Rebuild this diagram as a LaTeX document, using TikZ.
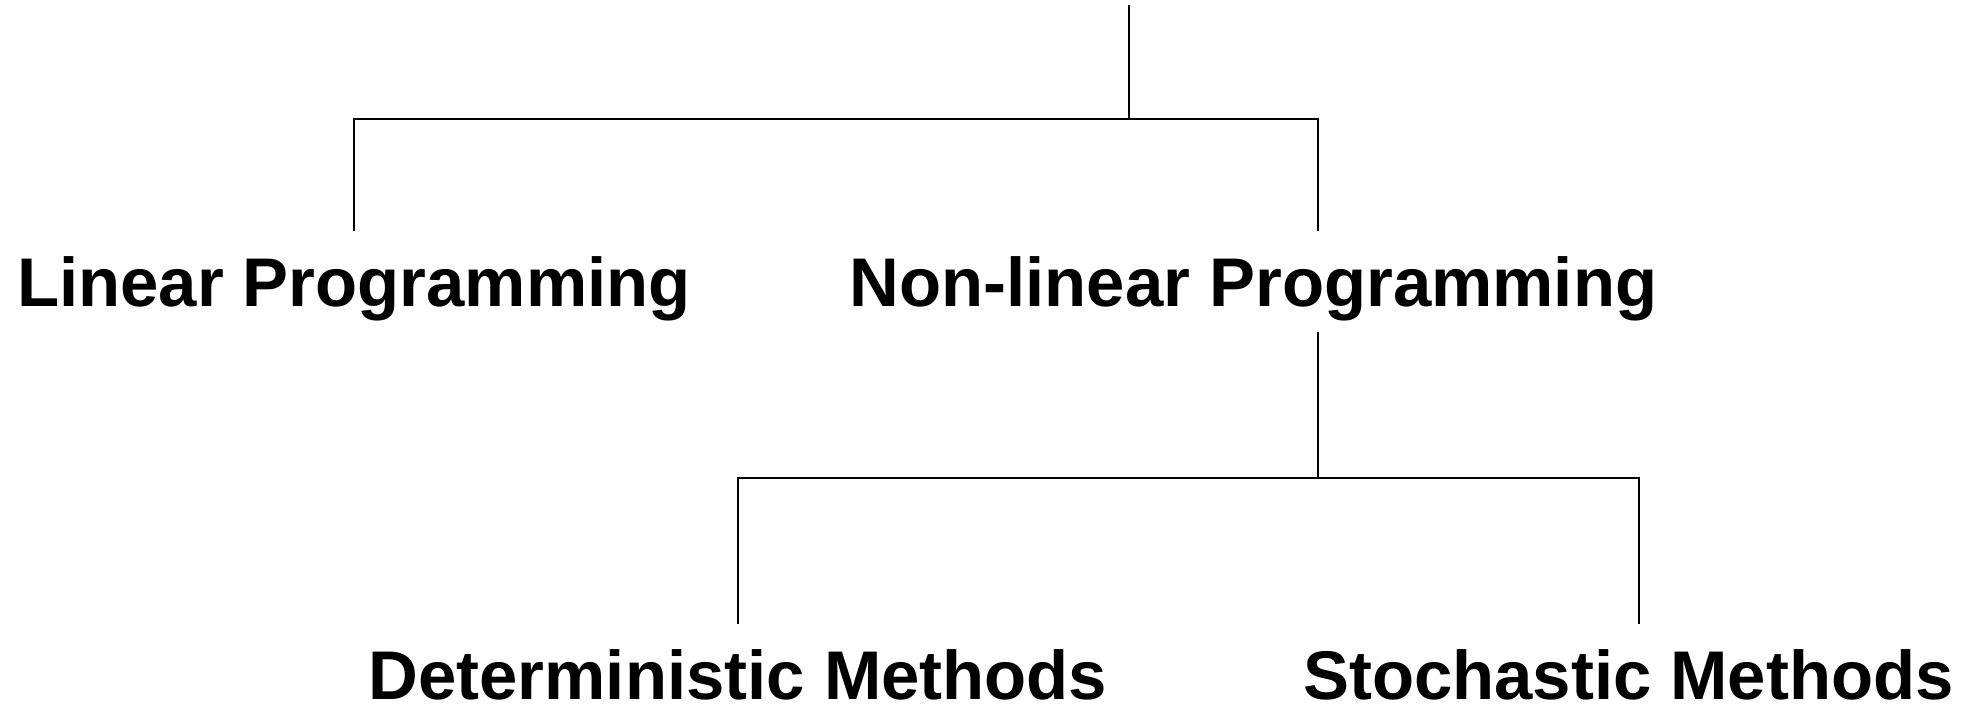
\documentclass[tikz,border=0pt]{standalone}
\usepackage{fontspec}
\setmainfont{Liberation Sans}
\usepackage{tikz}
\usetikzlibrary{calc}

\tikzset{item/.style={anchor=base,font=\fontsize{19.6}{23}\bfseries,inner sep=0pt,text height=0.5cm,text depth=0cm},
	gap/.style={shorten <=#1,shorten >=0.24cm}}

\begin{document}
\begin{tikzpicture}[line width=0.4pt]
			\useasboundingbox (0,0) rectangle (19.82,-7.06);
			\node [item] (lp) at (3.54,-3.06) {Linear Programming};
			\node [item] (nlp) at (12.535,-3.06) {Non-linear Programming};
			\node [item] (det) at (7.38,-6.99) {Deterministic Methods};
			\node [item] (sto) at (16.285,-6.99) {Stochastic Methods};
			% first split
			\coordinate (top) at (11.29,-0.05);
			\coordinate (fork) at (11.29,-1.19);
			\coordinate (nlpx) at (13.18,-1.19);
			\draw (top) -- (fork);
			\draw [gap=0.24cm] (lp.north) |- (nlpx) -- (nlpx |- nlp.north);
			% second split
			\coordinate (fork2) at (13.18,-4.78);
			\coordinate (stox) at (16.39,-4.78);
			\draw [shorten <=0.25cm] (nlpx |- nlp.south) -- (fork2);
			\draw [gap=0.24cm] (det.north) |- (stox) -- (stox |- sto.north);
\end{tikzpicture}
\end{document}
